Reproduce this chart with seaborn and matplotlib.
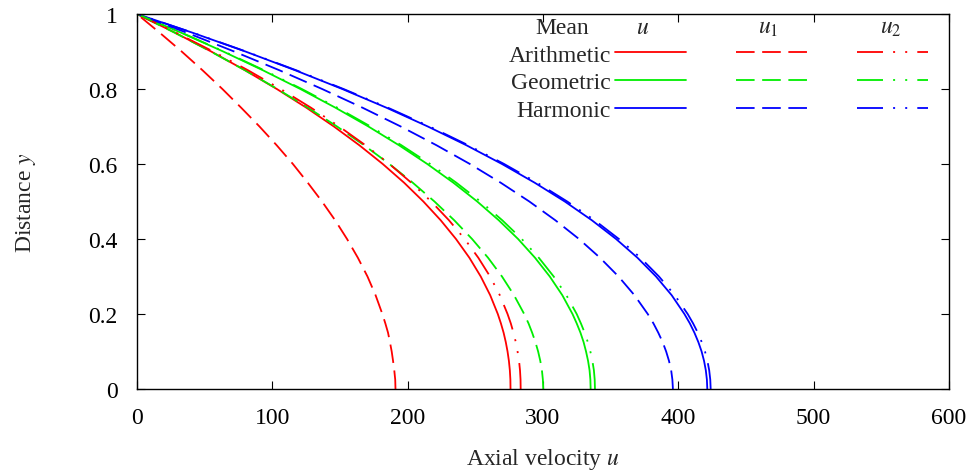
import matplotlib
matplotlib.use("Agg")
import matplotlib.pyplot as plt
import seaborn as sns
import pandas as pd

# ---- data (distance y vs axial velocity u) ----
y_pos = [0.0, 0.025, 0.05, 0.075, 0.10, 0.125, 0.15, 0.175, 0.20, 0.25, 0.30, 0.35,
         0.40, 0.45, 0.50, 0.55, 0.60, 0.65, 0.70, 0.75, 0.80, 0.85, 0.90, 0.95, 1.0]

arith_u = [276.0, 275.9, 275.5, 274.8, 273.8, 272.5, 270.9, 268.9, 266.6, 261.0, 254.0, 245.6,
           235.7, 224.4, 211.6, 197.4, 181.6, 164.3, 145.5, 125.2, 103.3, 79.8, 54.8, 28.2, 0.0]
arith_u1 = [191.0, 190.8, 190.1, 189.2, 188.2, 186.9, 185.5, 183.5, 181.3, 176.3, 170.3, 163.2,
            155.2, 146.4, 136.7, 126.2, 115.2, 103.2, 90.5, 77.0, 63.1, 48.4, 33.0, 16.8, 0.0]
arith_u2 = [283.5, 283.4, 283.0, 282.3, 281.2, 279.9, 278.2, 276.2, 273.8, 268.1, 260.9, 252.2,
            242.1, 230.5, 217.4, 202.7, 186.5, 168.8, 149.4, 128.6, 106.1, 82.0, 56.3, 28.9, 0.0]
geom_u = [335.2, 335.0, 334.4, 333.3, 331.8, 330.0, 327.7, 324.9, 321.8, 314.3, 305.0, 294.1,
          281.6, 267.3, 251.4, 233.8, 214.5, 193.6, 171.0, 146.7, 120.7, 93.0, 63.7, 32.7, 0.0]
geom_u1 = [300.2, 299.9, 299.2, 298.0, 296.4, 294.4, 292.0, 289.3, 286.1, 278.6, 269.7, 259.4,
           247.6, 234.4, 219.8, 203.8, 186.5, 167.8, 147.8, 126.4, 103.7, 79.8, 54.5, 27.9, 0.0]
geom_u2 = [338.4, 338.2, 337.6, 336.5, 335.0, 333.1, 330.8, 328.0, 324.9, 317.3, 307.9, 296.9,
           284.3, 269.9, 253.8, 236.0, 216.6, 195.4, 172.6, 148.1, 121.8, 93.9, 64.3, 33.0, 0.0]
harm_u = [421.4, 421.1, 420.3, 419.0, 417.2, 414.8, 411.9, 408.5, 404.5, 395.1, 383.5, 369.8,
          354.0, 336.1, 316.1, 293.9, 269.7, 243.4, 214.9, 184.4, 151.7, 116.9, 80.1, 41.1, 0.0]
harm_u1 = [396.0, 395.6, 394.7, 393.1, 391.0, 388.4, 385.2, 381.6, 377.4, 367.6, 355.8, 342.1,
           326.6, 309.1, 289.9, 268.8, 246.0, 221.3, 194.9, 166.7, 136.8, 105.2, 71.8, 36.8, 0.0]
harm_u2 = [423.9, 423.6, 422.8, 421.5, 419.7, 417.3, 414.4, 410.9, 406.9, 397.4, 385.7, 372.0,
           356.1, 338.1, 317.9, 295.7, 271.3, 244.8, 216.2, 185.5, 152.6, 117.6, 80.5, 41.3, 0.0]

means = ["Arithmetic", "Geometric", "Harmonic"]
kinds = ["u", "u1", "u2"]
series = {
    ("Arithmetic", "u"): arith_u, ("Arithmetic", "u1"): arith_u1, ("Arithmetic", "u2"): arith_u2,
    ("Geometric", "u"): geom_u, ("Geometric", "u1"): geom_u1, ("Geometric", "u2"): geom_u2,
    ("Harmonic", "u"): harm_u, ("Harmonic", "u1"): harm_u1, ("Harmonic", "u2"): harm_u2,
}
x_ticks = [0, 100, 200, 300, 400, 500, 600]
y_ticks = [0, 0.2, 0.4, 0.6, 0.8, 1]
y_tick_labels = ["0", "0.2", "0.4", "0.6", "0.8", "1"]
header_labels = ["Mean", "$u$", "$u_1$", "$u_2$"]

# ---- style ----
sns.set_style("ticks")
plt.rcParams["font.family"] = ["Liberation Serif", "DejaVu Serif"]
plt.rcParams["mathtext.fontset"] = "stix"
FS = 17

colors = {"Arithmetic": "#ff0000", "Geometric": "#00ee00", "Harmonic": "#0000ff"}
linestyles = {"u": "-",
              "u1": (0, (10.3, 4.2)),
              "u2": (0, (14.4, 5.6, 1.1, 5.6, 1.1, 5.6))}

fig = plt.figure(figsize=(9.74, 4.77), dpi=100)
ax = fig.add_axes([137 / 974, 1 - 390 / 477, 812 / 974, 375 / 477])

handles = {}
for kind in kinds:
    for mean in means:
        df = pd.DataFrame({"u": series[(mean, kind)], "y": y_pos})
        sns.lineplot(data=df, x="u", y="y", ax=ax, sort=False, estimator=None,
                     color=colors[mean], linewidth=1.3, linestyle=linestyles[kind])
        handles[(mean, kind)] = ax.lines[-1]

ax.set_xlim(0, 600)
ax.set_ylim(0, 1)
ax.set_xticks(x_ticks)
ax.set_yticks(y_ticks)
ax.set_yticklabels(y_tick_labels)
ax.tick_params(direction="in", length=6, width=0.8, top=True, right=True,
               labelsize=FS, colors="black")
ax.tick_params(axis="x", pad=13)
ax.tick_params(axis="y", pad=14)
for sp in ax.spines.values():
    sp.set_linewidth(1.0)
    sp.set_color("black")

ax.set_xlabel("Axial velocity $u$", fontsize=FS, labelpad=13)
ax.set_ylabel("Distance $y$", fontsize=FS, labelpad=36)

# legend as a table: rows = mean type, columns = u, u1, u2
leg_handles = [handles[(m, k)] for k in kinds for m in means]
leg_labels = [m if k == "u" else "" for k in kinds for m in means]
leg = ax.legend(leg_handles, leg_labels, ncol=3, markerfirst=False, frameon=False,
                fontsize=FS, handlelength=3.0, handletextpad=0.18, columnspacing=1.95,
                labelspacing=0.27, borderpad=0, borderaxespad=0,
                loc="upper right", bbox_to_anchor=((928 - 137) / 812, (390 - 45) / 375))

header_x = [(561.7 - 137) / 812, (643 - 137) / 812, (768 - 137) / 812, (890.7 - 137) / 812]
for hx, txt in zip(header_x, header_labels):
    ax.text(hx, (390 - 28.3) / 375, txt, transform=ax.transAxes, ha="center",
            va="center", fontsize=FS)

fig.savefig("out.png", dpi=100)
